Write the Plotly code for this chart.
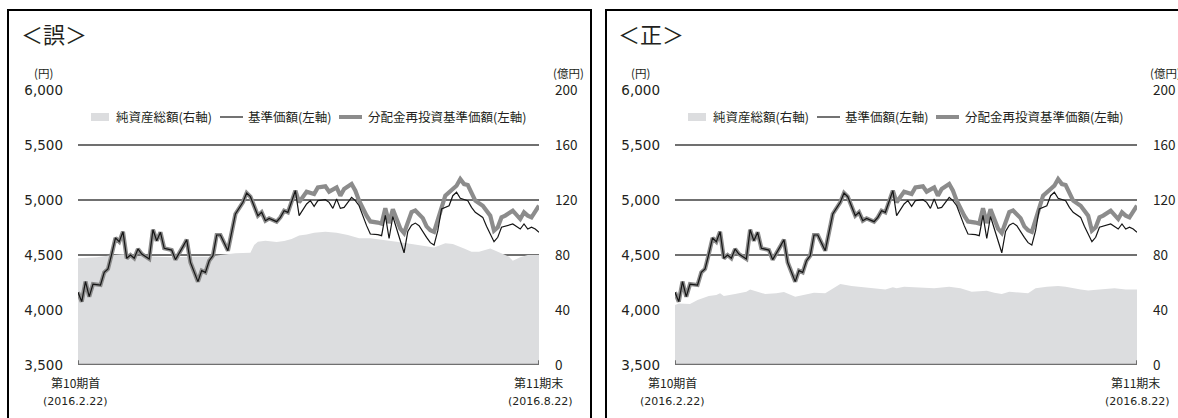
import plotly.graph_objects as go

# ---------------- data ----------------
# trading-day index 0 = 2016.2.22 (第10期首), 123 = 2016.8.22 (第11期末)
nav_days = [0, 1, 2, 3, 4, 6, 7, 8, 9, 10, 11, 12, 13, 14, 15, 16, 17, 19, 20, 21, 22, 23, 25, 26,
            28, 29, 30, 32, 33, 34, 35, 36, 37, 38, 40, 41, 42, 44, 45, 46, 47, 48, 49, 50, 51, 53,
            54, 55, 56, 57, 58, 59, 61, 62, 63, 64, 66, 67, 68, 69, 70, 71, 73, 74, 75, 77, 78, 80,
            81, 82, 83, 84, 87, 88, 89, 90, 91, 93, 94, 95, 96, 97, 99, 100, 101, 102, 104, 105,
            106, 108, 109, 111, 112, 113, 114, 116, 118, 119, 120, 121, 122, 123]
nav_vals = [4161, 4076, 4258, 4121, 4236, 4227, 4342, 4373, 4509, 4655, 4621, 4712, 4470, 4500,
            4470, 4555, 4509, 4464, 4730, 4630, 4706, 4561, 4545, 4458, 4576, 4639, 4433, 4258,
            4358, 4342, 4448, 4494, 4682, 4682, 4539, 4721, 4873, 4979, 5064, 5030, 4948, 4858,
            4888, 4812, 4833, 4803, 4842, 4903, 4888, 4994, 5085, 4858, 4964, 4994, 4942, 4994,
            5003, 4979, 4924, 5009, 4924, 4933, 5024, 4994, 4948, 4767, 4691, 4685, 4676, 4860,
            4650, 4850, 4520, 4715, 4770, 4790, 4767, 4660, 4612, 4590, 4721, 4918, 4948, 5039,
            5070, 5015, 4994, 4933, 4888, 4842, 4761, 4621, 4661, 4752, 4761, 4782, 4736, 4782,
            4736, 4752, 4736, 4706]

reinv_days = [0, 1, 2, 3, 4, 6, 7, 8, 9, 10, 11, 12, 13, 14, 15, 16, 17, 19, 20, 21, 22, 23, 25, 26,
              28, 29, 30, 32, 33, 34, 35, 36, 37, 38, 40, 41, 42, 44, 45, 46, 47, 48, 49, 50, 51, 53,
              54, 55, 56, 57, 58, 59, 61, 63, 64, 66, 67, 69, 70, 71, 73, 74, 75, 77, 78, 80, 81,
              82, 83, 84, 86, 87, 89, 90, 92, 93, 94, 95, 96, 97, 98, 100, 101, 102, 103, 104, 105,
              106, 108, 110, 111, 112, 113, 114, 116, 118, 119, 120, 121, 122, 123]
reinv_vals = [4161, 4076, 4258, 4121, 4236, 4227, 4342, 4373, 4509, 4655, 4621, 4712, 4470, 4500,
              4470, 4555, 4509, 4464, 4730, 4630, 4706, 4561, 4545, 4458, 4576, 4639, 4433, 4258,
              4358, 4342, 4448, 4494, 4682, 4682, 4539, 4721, 4873, 4979, 5064, 5030, 4948, 4858,
              4888, 4812, 4833, 4803, 4842, 4903, 4888, 4994, 5085, 4979, 5076, 5055, 5115, 5124,
              5076, 5115, 5039, 5100, 5145, 5085, 4994, 4858, 4805, 4795, 4785, 4925, 4790, 4915,
              4740, 4700, 4890, 4905, 4835, 4760, 4725, 4710, 4830, 4948, 5039, 5100, 5130, 5191,
              5145, 5136, 5070, 4994, 4948, 4858, 4721, 4752, 4842, 4858, 4903, 4827, 4888, 4858,
              4842, 4888, 4948]

# 純資産総額 (億円) as printed in the <誤> panel
aum_wrong_days = [0, 5, 9, 12, 16, 20, 25, 30, 35, 38, 42, 46, 47, 48, 50, 53, 55, 57, 59, 61, 63,
                  66, 69, 72, 75, 78, 82, 85, 89, 93, 95, 98, 100, 103, 105, 107, 110, 112, 115,
                  116, 118, 120, 123]
aum_wrong_vals = [77.6, 78.3, 79.8, 80.5, 79.3, 78.8, 78.3, 78.8, 78.8, 80.0, 81.2, 81.7, 87.3,
                  89.7, 90.4, 89.5, 90.2, 91.6, 94.1, 95.0, 96.2, 96.9, 96.2, 94.5, 92.1, 92.1,
                  90.9, 89.7, 88.0, 86.5, 85.5, 88.5, 88.0, 84.8, 82.4, 82.4, 84.8, 82.4, 78.8,
                  75.9, 78.3, 80.0, 80.0]

# 純資産総額 (億円) in the corrected <正> panel
aum_right_days = [0, 1, 4, 6, 9, 11, 12, 13, 16, 19, 20, 22, 24, 27, 29, 32, 35, 37, 40, 42, 44,
                  47, 51, 54, 56, 58, 59, 61, 64, 69, 73, 76, 79, 83, 85, 87, 89, 92, 94, 96, 99,
                  102, 104, 108, 110, 113, 117, 120, 123]
aum_right_vals = [43.6, 44.8, 44.4, 47.3, 50.2, 50.9, 52.1, 50.2, 51.6, 53.3, 55.0, 53.3, 51.6,
                  52.1, 53.1, 49.7, 51.6, 52.6, 52.1, 55.8, 58.9, 57.5, 56.5, 55.8, 55.0, 56.5,
                  55.8, 57.0, 56.5, 55.8, 57.0, 55.8, 53.3, 54.0, 52.6, 51.6, 53.3, 52.8, 52.1,
                  55.8, 57.0, 57.5, 57.0, 55.0, 54.1, 55.0, 55.8, 55.0, 55.0]

left_ticks = [3500, 4000, 4500, 5000, 5500, 6000]
left_tick_text = ["3,500", "4,000", "4,500", "5,000", "5,500", "6,000"]
right_ticks = [0, 40, 80, 120, 160, 200]
right_tick_text = ["0", "40", "80", "120", "160", "200"]

titles = ["＜誤＞", "＜正＞"]
legend_names = ["純資産総額(右軸)", "基準価額(左軸)", "分配金再投資基準価額(左軸)"]
start_label = ["第10期首", "(2016.2.22)"]
end_label = ["第11期末", "(2016.8.22)"]
left_unit = "(円)"
right_unit = "(億円)"

# ---------------- styling ----------------
W, H = 1178, 418
FONT = "Noto Sans CJK JP"
NUMFONT = "DejaVu Sans, Noto Sans CJK JP"
TXT = "#231f20"
GRID = "#707070"
AREA = "#dcdddf"
GRAYLINE = "#8c8c8c"
BLACK = "#151515"


def px(x):
    return x / W


def py(y):
    return 1 - y / H


fig = go.Figure()

panels = [
    dict(x0=78, x1=539, xa="x", ya="y", ya2="y2", aum_d=aum_wrong_days, aum_v=aum_wrong_vals),
    dict(x0=675, x1=1137, xa="x2", ya="y3", ya2="y4", aum_d=aum_right_days, aum_v=aum_right_vals),
]

for p in panels:
    fig.add_trace(go.Scatter(x=p["aum_d"], y=p["aum_v"], mode="lines", fill="tozeroy",
                             fillcolor=AREA, line=dict(width=0, color=AREA),
                             xaxis=p["xa"], yaxis=p["ya"], showlegend=False, hoverinfo="skip"))
    fig.add_trace(go.Scatter(x=reinv_days, y=reinv_vals, mode="lines",
                             line=dict(width=4.2, color=GRAYLINE),
                             xaxis=p["xa"], yaxis=p["ya2"], showlegend=False))
    fig.add_trace(go.Scatter(x=nav_days, y=nav_vals, mode="lines",
                             line=dict(width=1.2, color=BLACK),
                             xaxis=p["xa"], yaxis=p["ya2"], showlegend=False))

dom_y = [py(365), py(90)]
xcommon = dict(range=[0, 123], visible=False, showgrid=False, zeroline=False, automargin=False)
ybase = dict(domain=dom_y, range=[0, 200], side="right", tickvals=right_ticks,
             ticktext=right_tick_text, showgrid=True, gridcolor=GRID, gridwidth=1.6,
             zeroline=False, showline=False, ticks="", ticklabelstandoff=15, automargin=False,
             tickfont=dict(family=FONT, size=13.5, color=TXT), fixedrange=True)
yover = dict(range=[3500, 6000], side="left", tickvals=left_ticks, ticktext=left_tick_text,
             showgrid=False, zeroline=False, showline=False, ticks="", ticklabelstandoff=14,
             automargin=False,
             tickfont=dict(family=NUMFONT, size=13.5, color=TXT), fixedrange=True)

fig.update_layout(
    width=W, height=H, margin=dict(l=0, r=0, t=0, b=0, pad=0, autoexpand=False),
    paper_bgcolor="white", plot_bgcolor="rgba(0,0,0,0)",
    font=dict(family=FONT, color=TXT),
    xaxis=dict(domain=[px(78), px(539)], anchor="y", **xcommon),
    xaxis2=dict(domain=[px(675), px(1137)], anchor="y3", **xcommon),
    yaxis=dict(anchor="x", **ybase),
    yaxis2=dict(anchor="x", overlaying="y", **yover),
    yaxis3=dict(anchor="x2", **ybase),
    yaxis4=dict(anchor="x2", overlaying="y3", **yover),
    showlegend=False,
)

shapes = []
annotations = []
# panel frames
shapes.append(dict(type="rect", xref="paper", yref="paper", x0=px(8), x1=px(591),
                   y0=py(440), y1=py(10), line=dict(color="black", width=2)))
shapes.append(dict(type="rect", xref="paper", yref="paper", x0=px(606), x1=px(1190),
                   y0=py(440), y1=py(10), line=dict(color="black", width=2)))

for i, p in enumerate(panels):
    off = p["x0"] - 78
    # bottom axis with end ticks
    shapes.append(dict(type="line", xref=p["xa"], yref=p["ya"], x0=0, x1=123, y0=0, y1=0,
                       line=dict(color=GRID, width=2.5), layer="above"))
    for xe in (0, 123):
        shapes.append(dict(type="line", xref=p["xa"], yref=p["ya"], x0=xe, x1=xe, y0=0, y1=3.5,
                           line=dict(color=GRID, width=2), layer="above"))
    # title
    annotations.append(dict(text=titles[i], xref="paper", yref="paper", x=px(19 + off),
                            y=py(33), xanchor="left", yanchor="middle", showarrow=False,
                            font=dict(family=FONT, size=22, color=TXT)))
    # unit labels
    annotations.append(dict(text=left_unit, xref="paper", yref="paper", x=px(43 + off), y=py(73),
                            xanchor="center", yanchor="middle", showarrow=False,
                            font=dict(family=FONT, size=11.5, color=TXT)))
    annotations.append(dict(text=right_unit, xref="paper", yref="paper", x=px(551 + off),
                            y=py(73), xanchor="left", yanchor="middle", showarrow=False,
                            font=dict(family=FONT, size=11.5, color=TXT)))
    # period labels
    annotations.append(dict(text=start_label[0], xref="paper", yref="paper", x=px(75 + off),
                            y=py(382), xanchor="center", yanchor="middle", showarrow=False,
                            font=dict(family=FONT, size=12, color=TXT)))
    annotations.append(dict(text=start_label[1], xref="paper", yref="paper", x=px(75 + off),
                            y=py(401), xanchor="center", yanchor="middle", showarrow=False,
                            font=dict(family=NUMFONT, size=11, color=TXT)))
    annotations.append(dict(text=end_label[0], xref="paper", yref="paper", x=px(538 + off),
                            y=py(382), xanchor="center", yanchor="middle", showarrow=False,
                            font=dict(family=FONT, size=12, color=TXT)))
    annotations.append(dict(text=end_label[1], xref="paper", yref="paper", x=px(540 + off),
                            y=py(401), xanchor="center", yanchor="middle", showarrow=False,
                            font=dict(family=NUMFONT, size=11, color=TXT)))
    # manual legend
    ly = 117
    shapes.append(dict(type="rect", xref="paper", yref="paper", x0=px(91 + off), x1=px(109 + off),
                       y0=py(ly + 4), y1=py(ly - 4), line=dict(width=0), fillcolor=AREA))
    annotations.append(dict(text=legend_names[0], xref="paper", yref="paper", x=px(114 + off),
                            y=py(ly), xanchor="left", yanchor="middle", showarrow=False,
                            font=dict(family=FONT, size=12.5, color=TXT)))
    shapes.append(dict(type="line", xref="paper", yref="paper", x0=px(220 + off), x1=px(243 + off),
                       y0=py(ly), y1=py(ly), line=dict(color=BLACK, width=1.2)))
    annotations.append(dict(text=legend_names[1], xref="paper", yref="paper", x=px(246 + off),
                            y=py(ly), xanchor="left", yanchor="middle", showarrow=False,
                            font=dict(family=FONT, size=12.5, color=TXT)))
    shapes.append(dict(type="line", xref="paper", yref="paper", x0=px(339 + off), x1=px(362 + off),
                       y0=py(ly), y1=py(ly), line=dict(color=GRAYLINE, width=4)))
    annotations.append(dict(text=legend_names[2], xref="paper", yref="paper", x=px(366 + off),
                            y=py(ly), xanchor="left", yanchor="middle", showarrow=False,
                            font=dict(family=FONT, size=12.5, color=TXT)))

fig.update_layout(shapes=shapes, annotations=annotations)

fig.write_html("out.html", config={"displayModeBar": False},
               post_script="document.body.style.margin='0';document.body.style.overflow='hidden';")
